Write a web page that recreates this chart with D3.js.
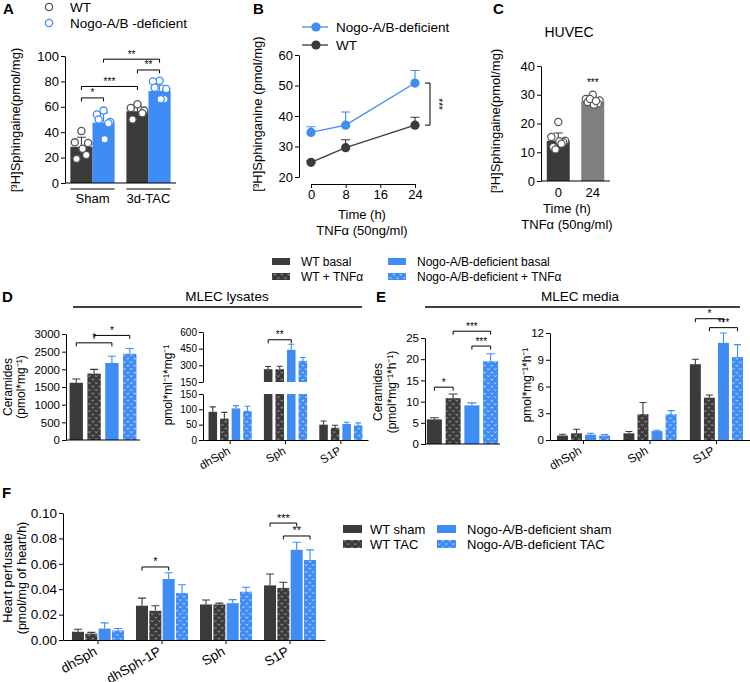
<!DOCTYPE html>
<html><head><meta charset="utf-8">
<script src="https://cdn.jsdelivr.net/npm/d3@7"></script>
<style>
body{margin:0;background:#fff;}
svg{font-family:"Liberation Sans",Arial,sans-serif;}
</style></head><body>
<svg id="c" width="750" height="682"></svg>
<script>
// ---------------- DATA ----------------
// Panel A
const aGroups = ["Sham", "3d-TAC"];
const aSeries = ["WT", "Nogo-A/B -deficient"];
const aWT = [28.5, 56.5], aWTerr = [36, 60.5];
const aKO = [47.5, 72.5], aKOerr = [55, 77];
const aWTpts = [[41, 32, 31.5, 19, 22, 27], [62, 59, 57, 50, 55]];
const aKOpts = [[57, 54, 48, 50, 47, 34.5], [80.5, 80, 74, 75, 66, 66]];
const aTicks = [0, 20, 40, 60, 80, 100];
const aSig = [
  {a: [0, 0], b: [0, 1], lvl: 67, t: "*"},
  {a: [0, 0], b: [1, 0], lvl: 76, t: "***"},
  {a: [1, 0], b: [1, 1], lvl: 89, t: "**"},
  {a: [0, 1], b: [1, 1], lvl: 97.5, t: "**"}
];
// Panel B
const bSeries = ["Nogo-A/B-deficient", "WT"];
const bTimes = [0, 8, 24];
const bKO = [34.6, 37, 50.8], bKOerr = [36.5, 41.3, 54.9];
const bWT = [24.8, 29.6, 37], bWTerr = [25.4, 32.2, 39.6];
const bTicks = [20, 30, 40, 50, 60], bXTicks = [0, 8, 16, 24];
// Panel C
const cCats = ["0", "24"];
const cMeans = [14, 27.7], cErr = [16.7, 29.2];
const cPts = [[20.5, 15.3, 14, 11.8, 13.5, 13.8, 11, 13], [30, 28.5, 28, 27.5, 27, 26.5, 28.5, 27.8]];
const cTicks = [0, 10, 20, 30, 40];
// Panels D / E
const mlecSeries = ["WT basal", "WT + TNFα", "Nogo-A/B-deficient basal", "Nogo-A/B-deficient + TNFα"];
const dCer = [1620, 1880, 2180, 2440], dCerErr = [1725, 2000, 2370, 2590];
const dCerTicks = [0, 500, 1000, 1500, 2000, 2500, 3000];
const dCerSig = [{a: 0, b: 2, lvl: 2750, t: "*"}, {a: 1, b: 3, lvl: 2960, t: "*"}];
const lipidCats = ["dhSph", "Sph", "S1P"];
const dLys = [[92, 70, 103, 95], [265, 265, 440, 340], [50, 40, 52, 48]];
const dLysErr = [[108, 90, 112, 110], [290, 292, 490, 370], [62, 48, 58, 56]];
const dLoTicks = [0, 50, 100, 150], dHiTicks = [150, 300, 450, 600];
const dLysSig = [{g: 1, a: 0, b: 2, lvl: 530, t: "**"}];
const eCer = [5.8, 10.8, 9.1, 19.5], eCerErr = [6.2, 11.8, 9.7, 21.3];
const eCerTicks = [0, 5, 10, 15, 20, 25];
const eCerSig = [{a: 0, b: 1, lvl: 13.4, t: "*"}, {a: 2, b: 3, lvl: 23.1, t: "***"}, {a: 1, b: 3, lvl: 26.6, t: "***"}];
const eMed = [[0.5, 0.75, 0.6, 0.5], [0.75, 2.9, 1.0, 2.9], [8.5, 4.75, 10.9, 9.3]];
const eMedErr = [[0.65, 1.2, 0.75, 0.6], [0.95, 4.2, 1.1, 3.3], [9.05, 5.05, 12.0, 10.7]];
const eMedTicks = [0, 3, 6, 9, 12];
const eMedSig = [{g: 2, a: 0, b: 2, lvl: 13.6, t: "*"}, {g: 2, a: 1, b: 3, lvl: 12.6, t: "***"}];
// Panel F
const fSeries = ["WT sham", "WT TAC", "Nogo-A/B-deficient sham", "Nogo-A/B-deficient TAC"];
const fCats = ["dhSph", "dhSph-1P", "Sph", "S1P"];
const fVals = [[0.0065, 0.005, 0.009, 0.0075], [0.027, 0.023, 0.048, 0.037], [0.028, 0.028, 0.029, 0.038], [0.043, 0.041, 0.071, 0.063]];
const fErr = [[0.0085, 0.006, 0.0135, 0.009], [0.033, 0.027, 0.053, 0.0435], [0.0315, 0.029, 0.0318, 0.0415], [0.052, 0.0455, 0.077, 0.071]];
const fTicks = [0, 0.02, 0.04, 0.06, 0.08, 0.10];
const fSig = [{g: 1, a: 0, b: 2, lvl: 0.0575, t: "*"}, {g: 3, a: 0, b: 2, lvl: 0.0921, t: "***"}, {g: 3, a: 1, b: 3, lvl: 0.0819, t: "**"}];

// ---------------- STYLE ----------------
const WT = "#3b3b3b", KO = "#3f8cf4", GRAY = "#7f7f7f";
const svg = d3.select("#c");
const defs = svg.append("defs");
function mkPat(id, base, mark) {
  const p = defs.append("pattern").attr("id", id).attr("patternUnits", "userSpaceOnUse")
    .attr("width", 7).attr("height", 7);
  p.append("rect").attr("width", 7).attr("height", 7).attr("fill", base);
  p.append("path").attr("d", "M0.6,0.8 L1.8,2.4 L3,0.8 M4.1,4.3 L5.3,5.9 L6.5,4.3")
    .attr("stroke", mark).attr("stroke-width", 0.8).attr("fill", "none");
}
mkPat("pWT", WT, "#a8a8a8");
mkPat("pKO", KO, "#cfe0ff");
const fills4 = [WT, "url(#pWT)", KO, "url(#pKO)"];
const err4 = [WT, WT, KO, KO];

function styleAxis(ax, fs) {
  ax.attr("font-family", null).attr("font-size", fs);
  ax.select(".domain").attr("stroke", "#000");
  ax.selectAll(".tick line").attr("stroke", "#000");
  ax.selectAll(".tick text").attr("fill", "#000");
  return ax;
}
function yAxis(y, ticks, x, fs, fmt) {
  const a = d3.axisLeft(y).tickValues(ticks).tickSize(4).tickSizeOuter(0).tickPadding(2)
    .tickFormat(fmt || d3.format("d"));
  return styleAxis(svg.append("g").attr("transform", `translate(${x},0)`).call(a), fs);
}
function text(x, y, s, fs, opts = {}) {
  const t = svg.append("text").attr("x", x).attr("y", y).attr("font-size", fs)
    .attr("text-anchor", opts.anchor || "middle").text(s);
  if (opts.bold) t.attr("font-weight", "bold");
  if (opts.rot) t.attr("transform", `rotate(${opts.rot},${x},${y})`);
  if (opts.fill) t.attr("fill", opts.fill);
  return t;
}
function bracket(x1, x2, yy, label, fs) {
  svg.append("path").attr("d", `M${x1},${yy + 3.5}V${yy}H${x2}V${yy + 3.5}`)
    .attr("fill", "none").attr("stroke", "#000").attr("stroke-width", 1);
  text((x1 + x2) / 2, yy - 1.5, label, fs);
}
function errBar(cx, y0, y1, w, col) {
  svg.append("path").attr("d", `M${cx},${y0}V${y1}M${cx - w / 2},${y1}H${cx + w / 2}`)
    .attr("stroke", col).attr("stroke-width", 1.1).attr("fill", "none");
}
function hline(x1, x2, yy, w = 1) {
  svg.append("line").attr("x1", x1).attr("x2", x2).attr("y1", yy).attr("y2", yy)
    .attr("stroke", "#000").attr("stroke-width", w);
}
const jit = [0, -0.3, 0.3, -0.22, 0.22, 0.05, -0.12, 0.14];

// ---------------- PANEL A ----------------
text(3, 14, "A", 15, {anchor: "start", bold: true});
const yA = d3.scaleLinear().domain([0, 100]).range([183, 56]);
const x0A = d3.scaleBand().domain(aGroups).range([65, 176]).paddingInner(0.21).paddingOuter(0.096);
const x1A = d3.scaleBand().domain(aSeries).range([0, x0A.bandwidth()]).paddingInner(0);
const aMeans = [aWT, aKO], aErrs = [aWTerr, aKOerr], aPts = [aWTpts, aKOpts], aCols = [WT, KO];
aSeries.forEach((s, si) => {
  aGroups.forEach((g, gi) => {
    const x = x0A(g) + x1A(s), w = x1A.bandwidth();
    svg.append("rect").attr("x", x).attr("y", yA(aMeans[si][gi])).attr("width", w)
      .attr("height", yA(0) - yA(aMeans[si][gi])).attr("fill", aCols[si]);
  });
});
aSeries.forEach((s, si) => {
  aGroups.forEach((g, gi) => {
    const x = x0A(g) + x1A(s), w = x1A.bandwidth(), cx = x + w / 2;
    errBar(cx, yA(aMeans[si][gi]), yA(aErrs[si][gi]), 9, aCols[si]);
    aPts[si][gi].forEach((v, k) => {
      svg.append("circle").attr("cx", cx + jit[k] * w).attr("cy", yA(v)).attr("r", 3.6)
        .attr("fill", "#fff").attr("stroke", si ? KO : "#555").attr("stroke-width", 1.3);
    });
  });
});
yAxis(yA, aTicks, 65, 13);
hline(65, 176, yA(0));
aGroups.forEach(g => {
  hline(x0A(g), x0A(g) + x0A.bandwidth(), 189);
  text(x0A(g) + x0A.bandwidth() / 2, 203, g, 13);
});
aSig.forEach(s => {
  const cx = ([gi, si]) => x0A(aGroups[gi]) + x1A(aSeries[si]) + x1A.bandwidth() / 2;
  bracket(cx(s.a), cx(s.b), yA(s.lvl), s.t, 10);
});
text(20, 120, "[³H]Sphingaine(pmol/mg)", 13, {rot: -90});
[[WT, "#555", aSeries[0]], [KO, KO, aSeries[1]]].forEach((d, i) => {
  svg.append("circle").attr("cx", 49).attr("cy", 7 + i * 16).attr("r", 3.6)
    .attr("fill", "#fff").attr("stroke", d[1]).attr("stroke-width", 1.3);
  text(70, 12 + i * 16, d[2], 13.5, {anchor: "start"});
});

// ---------------- PANEL B ----------------
text(253, 14, "B", 15, {anchor: "start", bold: true});
const yB = d3.scaleLinear().domain([20, 60]).range([177, 55]);
const xB = d3.scaleLinear().domain([0, 24]).range([311, 415]);
yAxis(yB, bTicks, 299, 13);
styleAxis(svg.append("g").attr("transform", "translate(0,184)")
  .call(d3.axisBottom(xB).tickValues(bXTicks).tickSize(4).tickSizeOuter(0).tickPadding(2)), 13);
[[bWT, bWTerr, WT], [bKO, bKOerr, KO]].forEach(([m, e, col]) => {
  m.forEach((v, i) => errBar(xB(bTimes[i]), yB(v), yB(e[i]), 9, col));
  svg.append("path").attr("d", d3.line().x((d, i) => xB(bTimes[i])).y(d => yB(d))(m))
    .attr("fill", "none").attr("stroke", col).attr("stroke-width", 1.3);
  m.forEach((v, i) => svg.append("circle").attr("cx", xB(bTimes[i])).attr("cy", yB(v)).attr("r", 4.6).attr("fill", col));
});
{
  const bx = 430, y1 = yB(bKO[2]), y2 = yB(bWT[2]);
  svg.append("path").attr("d", `M${bx - 5},${y1}H${bx}V${y2}H${bx - 5}`).attr("fill", "none").attr("stroke", "#000");
  text(bx + 5, (y1 + y2) / 2, "***", 10, {rot: 90});
}
text(262, 114, "[³H]Sphinganine (pmol/mg)", 13, {rot: -90});
text(362, 219, "Time (h)", 13);
text(362, 235, "TNFα (50ng/ml)", 13);
[[KO, bSeries[0]], [WT, bSeries[1]]].forEach((d, i) => {
  const yy = 27 + i * 18;
  svg.append("line").attr("x1", 302).attr("x2", 328).attr("y1", yy).attr("y2", yy).attr("stroke", d[0]).attr("stroke-width", 1.3);
  svg.append("circle").attr("cx", 316).attr("cy", yy).attr("r", 4.6).attr("fill", d[0]);
  text(336, yy + 5, d[1], 13.5, {anchor: "start"});
});

// ---------------- PANEL C ----------------
text(493, 14, "C", 15, {anchor: "start", bold: true});
text(569, 37, "HUVEC", 14);
const yC = d3.scaleLinear().domain([0, 40]).range([181, 66]);
const xC = d3.scaleBand().domain(cCats).range([541, 610]).paddingInner(0.333).paddingOuter(0.167);
const cCols = [WT, GRAY];
cCats.forEach((c, i) => {
  svg.append("rect").attr("x", xC(c)).attr("y", yC(cMeans[i])).attr("width", xC.bandwidth())
    .attr("height", yC(0) - yC(cMeans[i])).attr("fill", cCols[i]);
});
cCats.forEach((c, i) => {
  const cx = xC(c) + xC.bandwidth() / 2;
  errBar(cx, yC(cMeans[i]), yC(cErr[i]), 9, cCols[i]);
  cPts[i].forEach((v, k) => svg.append("circle").attr("cx", cx + jit[k] * xC.bandwidth()).attr("cy", yC(v))
    .attr("r", 3.6).attr("fill", "#fff").attr("stroke", "#555").attr("stroke-width", 1.2));
  text(cx, 197, c, 13);
});
text(xC("24") + xC.bandwidth() / 2, yC(33.2), "***", 10);
yAxis(yC, cTicks, 541, 13);
hline(541, 610, yC(0));
text(500, 121, "[³H]Sphingaine(pmol/mg)", 13, {rot: -90});
text(567, 213, "Time (h)", 13);
text(567, 229, "TNFα (50ng/ml)", 13);

// ---------------- D/E LEGEND ----------------
mlecSeries.forEach((s, i) => {
  const col = Math.floor(i / 2), row = i % 2;
  const sx = col ? 388 : 272, tx = col ? 417 : 301;
  svg.append("rect").attr("x", sx).attr("y", 258 + row * 15).attr("width", 18).attr("height", 7).attr("fill", fills4[i]);
  text(tx, 266 + row * 15, s, 12, {anchor: "start"});
});

function grouped(cats, series, vals, errs, x0, x1, y, capW) {
  cats.forEach((c, gi) => series.forEach((s, si) => {
    const x = x0(c) + x1(s), w = x1.bandwidth();
    svg.append("rect").attr("x", x).attr("y", y(vals[gi][si])).attr("width", w)
      .attr("height", y(0) - y(vals[gi][si])).attr("fill", fills4[si]);
    errBar(x + w / 2, y(vals[gi][si]), y(errs[gi][si]), capW, err4[si]);
  }));
}
function rotLabels(ax, dx, dy, ang) {
  ax.selectAll(".tick text").attr("x", 0).attr("y", 0).attr("dy", 0)
    .attr("transform", `translate(${dx},${dy}) rotate(${ang})`).style("text-anchor", "end");
}

// ---------------- PANEL D ----------------
text(2, 302, "D", 15, {anchor: "start", bold: true});
text(227, 301, "MLEC lysates", 13.5);
hline(73, 362, 307, 1.3);
const yDc = d3.scaleLinear().domain([0, 3000]).range([440, 334]);
const xDc = d3.scaleBand().domain(mlecSeries).range([66, 140]).paddingInner(0.25).paddingOuter(0.2);
mlecSeries.forEach((s, i) => {
  svg.append("rect").attr("x", xDc(s)).attr("y", yDc(dCer[i])).attr("width", xDc.bandwidth())
    .attr("height", yDc(0) - yDc(dCer[i])).attr("fill", fills4[i]);
  errBar(xDc(s) + xDc.bandwidth() / 2, yDc(dCer[i]), yDc(dCerErr[i]), 8, err4[i]);
});
yAxis(yDc, dCerTicks, 66, 11.5);
hline(66, 140, 440);
dCerSig.forEach(s => {
  const cx = i => xDc(mlecSeries[i]) + xDc.bandwidth() / 2;
  bracket(cx(s.a), cx(s.b), yDc(s.lvl), s.t, 10);
});
text(12, 387, "Ceramides", 12, {rot: -90});
text(25, 387, "(pmol*mg⁻¹)", 12, {rot: -90});
const yLo = d3.scaleLinear().domain([0, 150]).range([440, 394]);
const yHi = d3.scaleLinear().domain([150, 600]).range([382, 332]);
const x0D = d3.scaleBand().domain(lipidCats).range([203, 368]).paddingInner(0.22).paddingOuter(0.1);
const x1D = d3.scaleBand().domain(mlecSeries).range([0, x0D.bandwidth()]).paddingInner(0.26);
lipidCats.forEach((c, gi) => mlecSeries.forEach((s, si) => {
  const x = x0D(c) + x1D(s), w = x1D.bandwidth(), v = dLys[gi][si], e = dLysErr[gi][si];
  const lo = Math.min(v, 150);
  svg.append("rect").attr("x", x).attr("y", yLo(lo)).attr("width", w).attr("height", yLo(0) - yLo(lo)).attr("fill", fills4[si]);
  if (v > 150) svg.append("rect").attr("x", x).attr("y", yHi(v)).attr("width", w).attr("height", yHi(150) - yHi(v)).attr("fill", fills4[si]);
  const ys = v > 150 ? yHi : yLo;
  errBar(x + w / 2, ys(v), ys(e), 6, err4[si]);
}));
yAxis(yLo, dLoTicks, 203, 10);
yAxis(yHi, dHiTicks, 203, 10);
{
  const ax = styleAxis(svg.append("g").attr("transform", "translate(0,440)")
    .call(d3.axisBottom(x0D).tickSize(4).tickSizeOuter(0)), 11.5);
  rotLabels(ax, 1, 13, -30);
}
dLysSig.forEach(s => {
  const cx = i => x0D(lipidCats[s.g]) + x1D(mlecSeries[i]) + x1D.bandwidth() / 2;
  bracket(cx(s.a), cx(s.b), yHi(s.lvl), s.t, 10);
});
text(172, 385, "pmol*ml⁻¹*mg⁻¹", 12, {rot: -90});

// ---------------- PANEL E ----------------
text(376, 302, "E", 15, {anchor: "start", bold: true});
text(580, 301, "MLEC media", 13.5);
hline(425, 740, 307, 1.3);
const yEc = d3.scaleLinear().domain([0, 25]).range([444, 338]);
const xEc = d3.scaleBand().domain(mlecSeries).range([425, 500]).paddingInner(0.2).paddingOuter(0.1);
mlecSeries.forEach((s, i) => {
  svg.append("rect").attr("x", xEc(s)).attr("y", yEc(eCer[i])).attr("width", xEc.bandwidth())
    .attr("height", yEc(0) - yEc(eCer[i])).attr("fill", fills4[i]);
  errBar(xEc(s) + xEc.bandwidth() / 2, yEc(eCer[i]), yEc(eCerErr[i]), 9, err4[i]);
});
yAxis(yEc, eCerTicks, 425, 11.5);
hline(425, 500, 444);
eCerSig.forEach(s => {
  const cx = i => xEc(mlecSeries[i]) + xEc.bandwidth() / 2;
  bracket(cx(s.a), cx(s.b), yEc(s.lvl), s.t, 10);
});
text(382, 392, "Ceramides", 12, {rot: -90});
text(396, 392, "(pmol*mg⁻¹*h⁻¹)", 12, {rot: -90});
const yEm = d3.scaleLinear().domain([0, 12]).range([440, 333]);
const x0E = d3.scaleBand().domain(lipidCats).range([550, 750]).paddingInner(0.2).paddingOuter(0.105);
const x1E = d3.scaleBand().domain(mlecSeries).range([0, x0E.bandwidth()]).paddingInner(0.22);
grouped(lipidCats, mlecSeries, eMed, eMedErr, x0E, x1E, yEm, 7);
yAxis(yEm, eMedTicks, 550, 11.5);
{
  const ax = styleAxis(svg.append("g").attr("transform", "translate(0,440)")
    .call(d3.axisBottom(x0E).tickSize(4).tickSizeOuter(0)), 12);
  rotLabels(ax, -1, 13, -30);
}
eMedSig.forEach(s => {
  const cx = i => x0E(lipidCats[s.g]) + x1E(mlecSeries[i]) + x1E.bandwidth() / 2;
  bracket(cx(s.a), cx(s.b), yEm(s.lvl), s.t, 10);
});
text(531, 385, "pmol*mg⁻¹*h⁻¹", 12, {rot: -90});

// ---------------- PANEL F ----------------
text(2, 498, "F", 15, {anchor: "start", bold: true});
const yF = d3.scaleLinear().domain([0, 0.10]).range([640, 513]);
const x0F = d3.scaleBand().domain(fCats).range([63, 325]).paddingInner(0.1875).paddingOuter(0.14);
const x1F = d3.scaleBand().domain(fSeries).range([0, x0F.bandwidth()]).paddingInner(0.1);
grouped(fCats, fSeries, fVals, fErr, x0F, x1F, yF, 8);
yAxis(yF, fTicks, 63, 13.5, d3.format(".2f"));
{
  const ax = styleAxis(svg.append("g").attr("transform", "translate(0,640)")
    .call(d3.axisBottom(x0F).tickSize(4).tickSizeOuter(0)), 13.5);
  rotLabels(ax, 0, 14, -30);
}
fSig.forEach(s => {
  const cx = i => x0F(fCats[s.g]) + x1F(fSeries[i]) + x1F.bandwidth() / 2;
  bracket(cx(s.a), cx(s.b), yF(s.lvl), s.t, 11);
});
text(12, 578, "Heart perfusate", 13, {rot: -90});
text(26, 578, "(pmol/mg of heart/h)", 12.5, {rot: -90});
fSeries.forEach((s, i) => {
  const col = Math.floor(i / 2), row = i % 2;
  const sx = col ? 437 : 343, tx = col ? 467 : 370;
  svg.append("rect").attr("x", sx).attr("y", 525 + row * 15).attr("width", 19).attr("height", 8).attr("fill", fills4[i]);
  text(tx, 534 + row * 15, s, 13, {anchor: "start"});
});
</script>
</body></html>
